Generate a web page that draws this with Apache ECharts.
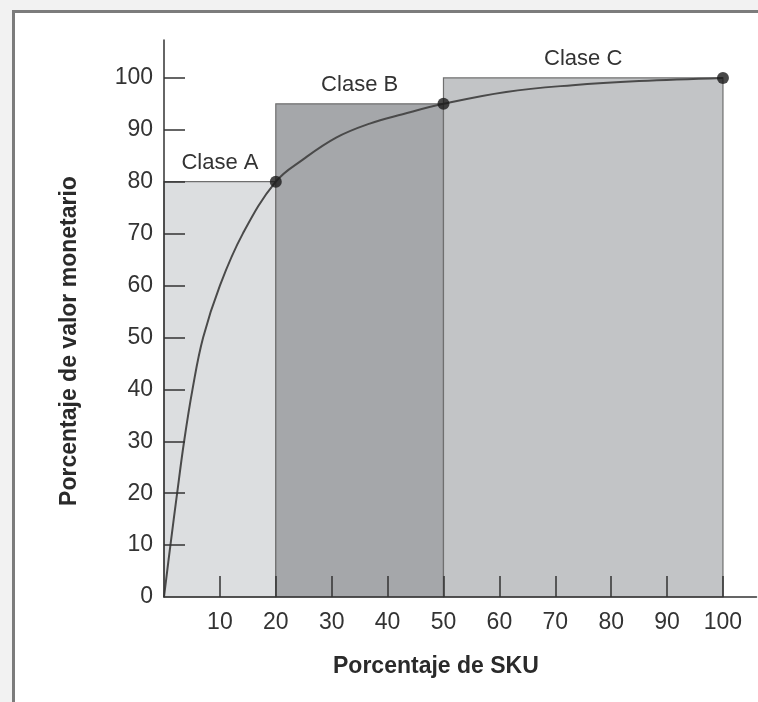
<!DOCTYPE html>
<html>
<head>
<meta charset="utf-8">
<script src="https://cdn.jsdelivr.net/npm/echarts@6/dist/echarts.min.js"></script>
<style>html,body{margin:0;padding:0;background:#f2f2f2;}#c{width:758px;height:702px;}</style>
</head>
<body>
<div id="c"></div>
<script>
// Class regions: [x start, x end, cumulative %, label]
const classNames = ['Clase A', 'Clase B', 'Clase C'];
const classStart = [0, 20, 50];
const classEnd = [20, 50, 100];
const classTop = [80, 95, 100];

// Cumulative curve (x = % SKU, y = % monetary value)
const curveX = [0, 1.15, 2.35, 3.6, 5.1, 7.0, 10.0, 14.1, 20, 24.9, 30.8, 36.8, 42.7, 50, 61.2, 73.1, 85, 100];
const curveY = [0, 10, 20, 30, 40, 50, 60, 70, 80, 84.3, 88.5, 91.2, 93.0, 95, 97.3, 98.6, 99.4, 100];

// Highlighted breakpoints
const keyX = [20, 50, 100];
const keyY = [80, 95, 100];

// Tick labels
const yTickLabels = [0, 10, 20, 30, 40, 50, 60, 70, 80, 90, 100];
const yTicks = [10, 20, 30, 40, 50, 60, 70, 80, 90, 100];
const xTickLabels = [10, 20, 30, 40, 50, 60, 70, 80, 90, 100];

const xName = 'Porcentaje de SKU';
const yName = 'Porcentaje de valor monetario';

const classFill = ['#dcdee0', '#a5a7aa', '#c2c4c6'];

const chart = echarts.init(document.getElementById('c'), null, {renderer: 'canvas'});
const font = '"Liberation Sans", Arial, sans-serif';

const rectData = classNames.map((n, i) => [classStart[i], classEnd[i], classTop[i], i]);

chart.setOption({
  backgroundColor: '#f2f2f2',
  animation: false,
  graphic: [
    {type: 'rect', z: -10, shape: {x: 13.5, y: 11.5, width: 800, height: 800},
     style: {fill: '#ffffff', stroke: '#7c7c7c', lineWidth: 3}},
    {type: 'text', left: 333, top: 655, z: 10,
     style: {text: xName, font: 'bold 23px ' + font, fill: '#2a2a2a'}},
    {type: 'text', x: 70, y: 341, rotation: Math.PI / 2, z: 10,
     style: {text: yName, font: 'bold 23px ' + font, fill: '#2a2a2a', align: 'center', verticalAlign: 'middle'}}
  ],
  grid: {left: 164, top: 40, right: 1.5, bottom: 105, containLabel: false},
  xAxis: {
    type: 'value', min: 0, max: 106, z: 10,
    axisLine: {show: true, lineStyle: {color: '#333', width: 1.5}},
    axisTick: {show: true, inside: true, length: 21, customValues: xTickLabels, lineStyle: {color: '#333', width: 1.5}},
    axisLabel: {customValues: xTickLabels, fontSize: 23, fontFamily: font, color: '#333', margin: 14},
    splitLine: {show: false}
  },
  yAxis: {
    type: 'value', min: 0, max: 107.3, z: 10,
    axisLine: {show: true, lineStyle: {color: '#333', width: 1.5}},
    axisTick: {show: true, inside: true, length: 21, customValues: yTicks, lineStyle: {color: '#333', width: 1.5}},
    axisLabel: {customValues: yTickLabels, fontSize: 23, fontFamily: font, color: '#333', margin: 11},
    splitLine: {show: false}
  },
  series: [
    {
      type: 'custom', z: 1,
      data: rectData,
      renderItem: function (params, api) {
        const x0 = api.value(0), x1 = api.value(1), top = api.value(2), idx = api.value(3);
        const p0 = api.coord([x0, top]);
        const p1 = api.coord([x1, 0]);
        return {
          type: 'rect',
          shape: {x: p0[0], y: p0[1], width: p1[0] - p0[0], height: p1[1] - p0[1]},
          style: {fill: classFill[idx], stroke: '#6f6f6f', lineWidth: 1.2},
          textContent: {style: {text: classNames[idx], font: '22px ' + font, fill: '#333'}},
          textConfig: {position: 'top', distance: 7}
        };
      }
    },
    {
      type: 'line', z: 3,
      data: curveX.map((x, i) => [x, curveY[i]]),
      smooth: 0.4,
      showSymbol: false,
      lineStyle: {color: '#4a4a4a', width: 2}
    },
    {
      type: 'scatter', z: 4,
      data: keyX.map((x, i) => [x, keyY[i]]),
      symbol: 'circle', symbolSize: 12,
      itemStyle: {color: '#1a1a1a'}
    }
  ]
});
</script>
</body>
</html>
